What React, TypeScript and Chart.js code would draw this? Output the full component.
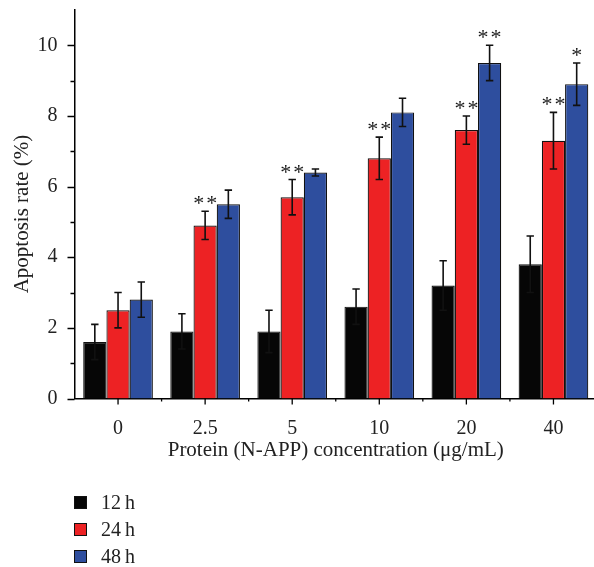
import React, { useEffect, useRef } from "react";
import { Chart, registerables } from "chart.js";

Chart.register(...registerables);

const categories = ["0", "2.5", "5", "10", "20", "40"];
const seriesNames = ["12\u2009h", "24\u2009h", "48\u2009h"];
const values12 = [1.6, 1.9, 1.9, 2.6, 3.2, 3.8];
const values24 = [2.5, 4.9, 5.7, 6.8, 7.6, 7.3];
const values48 = [2.8, 5.5, 6.4, 8.1, 9.5, 8.9];
const errors12 = [0.5, 0.5, 0.6, 0.5, 0.7, 0.8];
const errors24 = [0.5, 0.4, 0.5, 0.6, 0.4, 0.8];
const errors48 = [0.5, 0.4, 0.1, 0.4, 0.5, 0.6];
const stars12 = ["", "", "", "", "", ""];
const stars24 = ["", "**", "**", "**", "**", "**"];
const stars48 = ["", "", "", "", "**", "*"];
const colors = ["#060606", "#ed2224", "#2e4e9e"];

const FONT = "'Liberation Serif', 'Times New Roman', serif";

const errorsAll = [errors12, errors24, errors48];
const starsAll = [stars12, stars24, stars48];

const decorPlugin = {
  id: "decor",
  afterDatasetsDraw(chart: any) {
    const ctx = chart.ctx;
    const y = chart.scales.y;
    const x = chart.scales.x;
    ctx.save();
    // error bars + stars
    chart.data.datasets.forEach((ds: any, di: number) => {
      const meta = chart.getDatasetMeta(di);
      meta.data.forEach((bar: any, i: number) => {
        const v = ds.data[i];
        const e = errorsAll[di][i];
        const top = y.getPixelForValue(v + e);
        const bot = y.getPixelForValue(v - e);
        ctx.strokeStyle = "#111";
        ctx.lineWidth = 1.6;
        ctx.beginPath();
        ctx.moveTo(bar.x, top);
        ctx.lineTo(bar.x, bot);
        ctx.moveTo(bar.x - 3.7, top);
        ctx.lineTo(bar.x + 3.7, top);
        ctx.moveTo(bar.x - 3.7, bot);
        ctx.lineTo(bar.x + 3.7, bot);
        ctx.stroke();
        const s = starsAll[di][i];
        if (s) {
          ctx.fillStyle = "#1a1a1a";
          ctx.font = `22px ${FONT}`;
          ctx.textAlign = "center";
          ctx.textBaseline = "alphabetic";
          const n = s.length;
          for (let k = 0; k < n; k++) {
            const off = n === 1 ? 0 : (k - (n - 1) / 2) * 13;
            ctx.fillText("*", bar.x + off, top - 1);
          }
        }
      });
    });
    // axis ticks
    ctx.strokeStyle = "#000";
    ctx.lineWidth = 1.3;
    ctx.beginPath();
    const left = chart.chartArea.left;
    for (let v = 0; v <= 10; v++) {
      const py = Math.round(y.getPixelForValue(v)) + 0.5;
      const len = v % 2 === 0 ? 7 : 4;
      ctx.moveTo(left, py);
      ctx.lineTo(left - len, py);
    }
    const bottom = chart.chartArea.bottom;
    const n = categories.length;
    const half = (x.getPixelForValue(1) - x.getPixelForValue(0)) / 2;
    for (let i = 0; i < n; i++) {
      const cx = x.getPixelForValue(i);
      ctx.moveTo(cx, bottom);
      ctx.lineTo(cx, bottom + 6);
      ctx.moveTo(cx + half, bottom);
      ctx.lineTo(cx + half, bottom + 3);
    }
    ctx.stroke();
    // y title
    ctx.fillStyle = "#222";
    ctx.font = `21px ${FONT}`;
    ctx.textAlign = "center";
    ctx.textBaseline = "alphabetic";
    ctx.translate(27.5, 214);
    ctx.rotate(-Math.PI / 2);
    ctx.fillText("Apoptosis rate (%)", 0, 0);
    ctx.restore();
  },
};

export default function App() {
  const ref = useRef<HTMLCanvasElement>(null);
  useEffect(() => {
    const chart = new Chart(ref.current!, {
      type: "bar",
      data: {
        labels: categories,
        datasets: [values12, values24, values48].map((d, i) => ({
          label: seriesNames[i],
          data: d,
          backgroundColor: colors[i],
          borderColor: "#111",
          borderWidth: 1.2,
          categoryPercentage: 0.8,
          barPercentage: 1.0,
        })),
      },
      options: {
        animation: false,
        responsive: false,
        maintainAspectRatio: false,
        layout: { padding: { top: 10, left: 0, right: 3, bottom: 98.5 } },
        plugins: { legend: { display: false }, tooltip: { enabled: false } },
        scales: {
          x: {
            grid: { display: false, drawTicks: false },
            border: { display: true, color: "#000", width: 1.5 },
            ticks: { color: "#222", font: { family: FONT, size: 20 }, padding: 18 },
            title: {
              display: true,
              text: "Protein (N-APP) concentration (\u03bcg/mL)",
              color: "#222",
              font: { family: FONT, size: 21 },
              padding: { top: 0, bottom: 5 },
            },
            afterFit: (s: any) => {
              s.height = 70;
              s.paddingLeft = 0;
              s.paddingRight = 0;
            },
          },
          y: {
            min: 0,
            max: 11,
            grid: { display: false, drawTicks: false },
            border: { display: true, color: "#000", width: 1.5 },
            ticks: {
              stepSize: 1,
              color: "#222",
              font: { family: FONT, size: 20 },
              padding: 17,
              callback: (v: any) => (Number(v) % 2 === 0 && Number(v) <= 10 ? String(v) : ""),
            },
            afterFit: (s: any) => {
              s.width = 74.5;
              s.paddingTop = 0;
              s.paddingBottom = 0;
            },
          },
        },
      },
      plugins: [decorPlugin],
    });
    return () => chart.destroy();
  }, []);

  return (
    <div style={{ position: "absolute", left: 0, top: 0, width: 594, height: 567, overflow: "hidden", background: "#fff" }}>
      <canvas ref={ref} width={600} height={567} style={{ width: 600, height: 567, display: "block" }} />
      {seriesNames.map((name, i) => (
        <div
          key={name}
          style={{
            position: "absolute",
            left: 74,
            top: 491 + i * 27.3,
            height: 22,
            display: "flex",
            alignItems: "center",
            fontFamily: FONT,
            fontSize: 20,
            color: "#222",
          }}
        >
          <span
            style={{
              display: "inline-block",
              width: 11,
              height: 11,
              background: colors[i],
              border: "1px solid #111",
              marginRight: 14,
            }}
          />
          <span>{name}</span>
        </div>
      ))}
    </div>
  );
}
